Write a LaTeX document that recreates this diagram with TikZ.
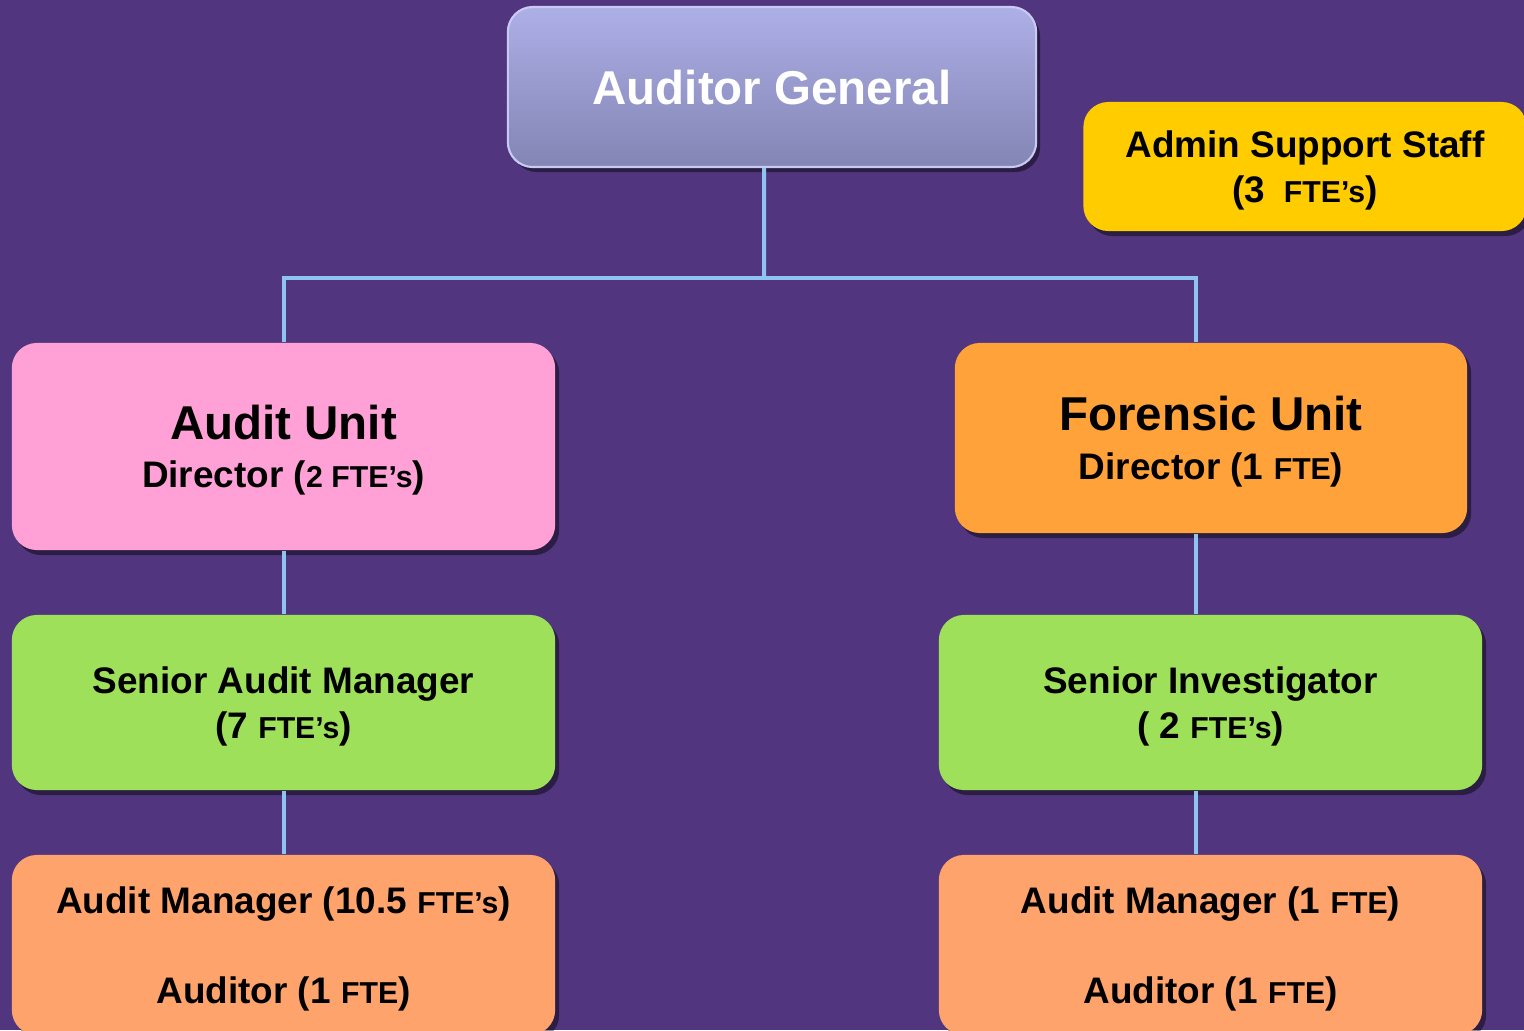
\documentclass[tikz,border=0pt]{standalone}
\usepackage{fontspec}
\setmainfont{Liberation Sans}
\usetikzlibrary{positioning, shadows}

\definecolor{bgpurple}{HTML}{51367F}
\definecolor{linkblue}{HTML}{8FC3F2}
\definecolor{agtop}{HTML}{ADAFE7}
\definecolor{agbottom}{HTML}{8385B4}
\definecolor{agrim}{HTML}{C8CAF2}
\definecolor{adminyellow}{HTML}{FFCC00}
\definecolor{auditpink}{HTML}{FFA1D6}
\definecolor{forensicorange}{HTML}{FFA23A}
\definecolor{seniorgreen}{HTML}{9FE05A}
\definecolor{staffsalmon}{HTML}{FFA36C}

% smaller size for the head counts
\newcommand{\fteSize}[1]{{\fontsize{8.6}{10}\selectfont #1}}
\newcommand{\headSize}{\fontsize{13.5}{16}\selectfont}

\begin{document}
\begin{tikzpicture}[
    x=0.01cm, y=-0.01cm,
    font=\bfseries\fontsize{10.5}{12.8}\selectfont,
    link/.style  = {draw=linkblue, line width=0.04cm},
    box/.style   = {rectangle, rounded corners=0.25cm, align=center,
      inner sep=0pt, text depth=0pt,
      drop shadow={shadow xshift=0.04cm, shadow yshift=-0.05cm,
        opacity=0.45, fill=black}},
    wide/.style  = {box, minimum width=5.43cm},
    head/.style  = {box, minimum width=5.28cm, minimum height=1.60cm,
      top color=agtop, bottom color=agbottom, draw=agrim, line width=0.6pt,
      text=white, font=\bfseries\headSize}
  ]

  \clip (0,0) rectangle (1524,1030);
  \fill[bgpurple] (0,0) rectangle (1524,1030);

  % ---------------- top level ----------------
  \node[head] (ag) at (772,87) {Auditor General};
  \node[box, fill=adminyellow, minimum width=4.43cm, minimum height=1.29cm]
    (admin) at (1305,166.5) {Admin Support Staff\\(3\enspace\fteSize{FTE’s})};

  % ---------------- units ----------------
  \node[wide, fill=auditpink, minimum height=2.07cm] (audit) at (283.5,446.5)
    {{\headSize Audit Unit}\\[1pt]Director (\fteSize{2 FTE’s})};
  \node[box, fill=forensicorange, minimum width=5.12cm, minimum height=1.90cm]
    (foren) at (1211,438) {{\headSize Forensic Unit}\\[1pt]Director (1 \fteSize{FTE})};

  % ---------------- senior staff ----------------
  \node[wide, fill=seniorgreen, minimum height=1.75cm] (sam) at (283.5,702.5)
    {Senior Audit Manager\\(7 \fteSize{FTE’s})};
  \node[wide, fill=seniorgreen, minimum height=1.75cm] (sinv) at (1210.5,702.5)
    {Senior Investigator\\( 2 \fteSize{FTE’s})};

  % ---------------- managers and auditors ----------------
  \node[wide, fill=staffsalmon, minimum height=1.80cm] (amL) at (283.5,945)
    {Audit Manager (10.5 \fteSize{FTE’s})\\[12.8pt]Auditor (1 \fteSize{FTE})};
  \node[wide, fill=staffsalmon, minimum height=1.80cm] (amR) at (1210.5,945)
    {Audit Manager (1 \fteSize{FTE})\\[12.8pt]Auditor (1 \fteSize{FTE})};

  % ---------------- connectors ----------------
  \coordinate (bus) at (764,278);
  \draw[link] ([xshift=-0.08cm]ag.south) -- (bus);
  \draw[link] (audit.north) |- (bus) -| ([xshift=-0.15cm]foren.north);

  \draw[link] (audit.south) -- (sam.north);
  \draw[link] (sam.south) -- (amL.north);

  \draw[link] ([xshift=-0.15cm]foren.south)
    -- ([xshift=-0.15cm]foren.south |- sinv.north);
  \draw[link] ([xshift=-0.145cm]sinv.south)
    -- ([xshift=-0.145cm]sinv.south |- amR.north);

\end{tikzpicture}
\end{document}
